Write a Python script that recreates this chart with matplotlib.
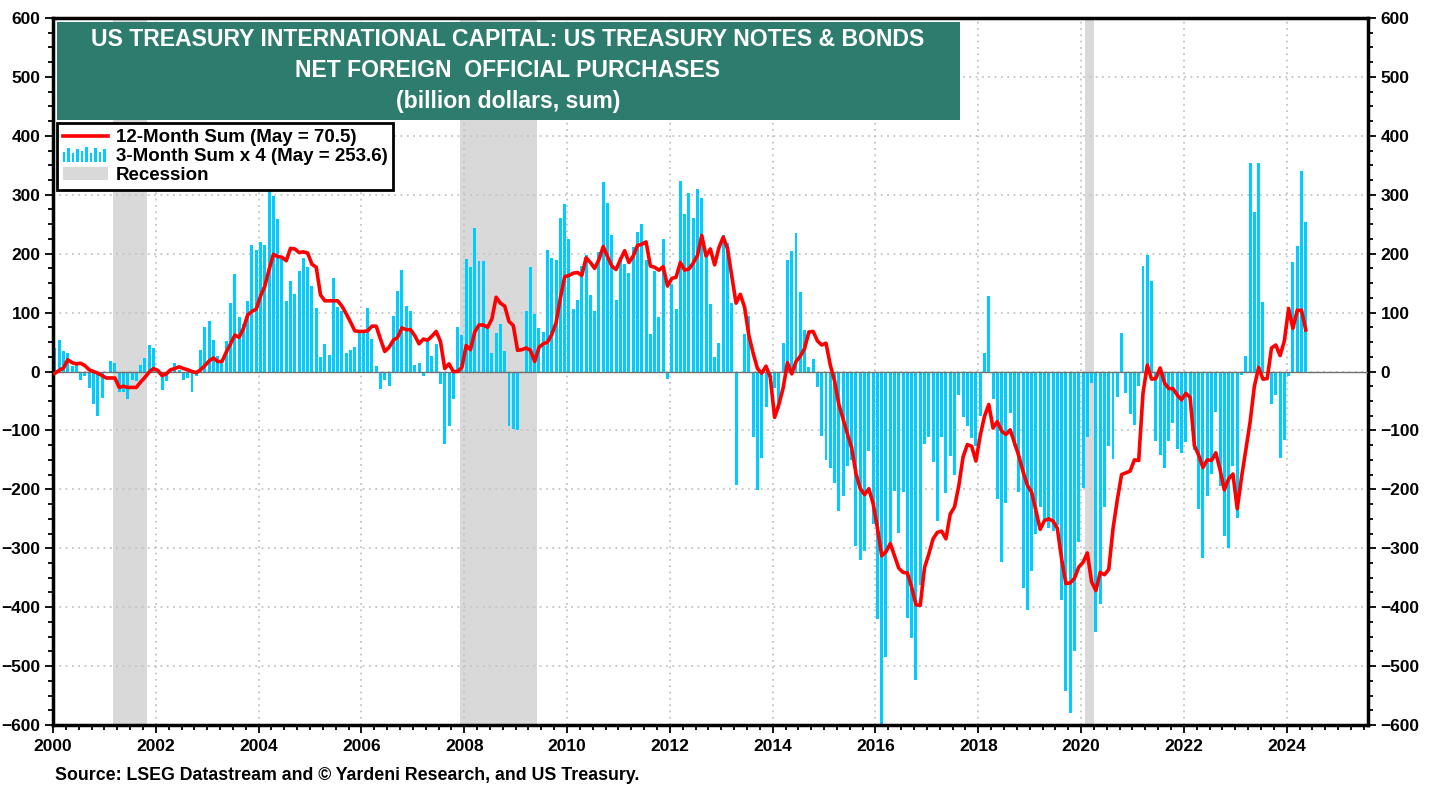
import numpy as np
import matplotlib
matplotlib.use("Agg")
import matplotlib.pyplot as plt
from matplotlib.patches import Rectangle, Patch
from matplotlib.lines import Line2D
from matplotlib.legend_handler import HandlerBase

plt.rcParams['font.family'] = ['Liberation Sans', 'DejaVu Sans']
plt.rcParams['font.weight'] = 'bold'

# monthly data, Jan 2000 .. May 2024 (billion dollars)
start_year = 2000
sum_3m_x4 = [
    40, 54, 34, 32, 10, 16, -14, -7, -28, -55, -76, -45,            # 2000
    0, 17, 15, -34, -34, -46, -14, -16, 11, 23, 45, 40,             # 2001
    2, -32, -16, 5, 15, 2, -14, -11, -35, -7, 36, 76,               # 2002
    85, 53, 27, 17, 51, 116, 165, 93, 80, 120, 215, 207,            # 2003
    220, 215, 310, 298, 259, 191, 120, 154, 132, 171, 192, 177,     # 2004
    145, 107, 24, 47, 28, 158, 109, 103, 32, 36, 41, 67,            # 2005
    69, 107, 55, 10, -29, -15, -24, 95, 136, 173, 111, 103,         # 2006
    11, 15, -7, 50, 26, 47, -22, -123, -92, -46, 75, 62,            # 2007
    191, 177, 243, 188, 188, 72, 32, 66, 81, 34, -93, -97,          # 2008
    -99, 0, 102, 178, 98, 73, 67, 207, 193, 189, 261, 284,          # 2009
    225, 106, 121, 179, 197, 130, 103, 202, 322, 286, 231, 121,     # 2010
    195, 183, 167, 212, 237, 251, 189, 64, 171, 92, 225, -12,       # 2011
    148, 106, 324, 267, 303, 260, 309, 295, 200, 115, 24, 49,       # 2012
    232, 218, 116, -192, -2, 63, 95, -112, -201, -147, -61, -13,    # 2013
    -28, -63, 48, 190, 204, 235, 135, 70, 7, 21, -27, -110,         # 2014
    -150, -163, -190, -237, -211, -161, -150, -296, -320, -304, -135, -258,  # 2015
    -420, -600, -484, -290, -203, -274, -205, -418, -452, -523, -363, -123,  # 2016
    -112, -153, -253, -112, -207, -143, -176, -40, -78, -93, -113, -127,     # 2017
    -75, 31, 129, -47, -217, -323, -224, -71, -126, -204, -368, -404,        # 2018
    -339, -276, -230, -250, -266, -271, -261, -388, -543, -580, -475, -290,  # 2019
    -198, -112, -20, -442, -394, -230, -127, -149, -44, 65, -36, -72,        # 2020
    -91, -24, 179, 197, 153, -118, -142, -163, -118, -88, -131, -138,        # 2021
    -119, -47, -134, -233, -317, -212, -174, -68, -195, -280, -300, -160,    # 2022
    -249, -6, 27, 354, 271, 354, 118, 0, -55, -40, -147, -116,               # 2023
    -7, 186, 213, 341, 253.6,                                                # 2024
]
sum_12m = [
    -3, 2, 6, 20, 15, 13, 14, 10, 3, 0, -3, -7,
    -11, -11, -11, -27, -25, -27, -27, -27, -18, -10, -1, 5,
    2, -7, -4, 3, 5, 8, 5, 3, 0, -2, 3, 10,
    18, 23, 17, 17, 33, 47, 62, 58, 73, 96, 102, 106,
    128, 145, 173, 199, 195, 194, 188, 209, 208, 202, 203, 201,
    182, 177, 130, 120, 120, 120, 120, 111, 98, 84, 69, 68,
    68, 69, 77, 77, 55, 34, 41, 53, 58, 74, 71, 71,
    61, 47, 55, 53, 60, 68, 51, 5, 13, 0, 0, 7,
    44, 37, 67, 79, 79, 75, 89, 126, 116, 111, 85, 78,
    36, 37, 40, 36, 17, 41, 47, 50, 63, 83, 125, 161,
    163, 167, 168, 163, 193, 185, 175, 190, 212, 195, 179, 173,
    190, 205, 185, 196, 214, 216, 220, 179, 177, 172, 178, 145,
    158, 160, 185, 172, 174, 184, 197, 231, 196, 208, 181, 210,
    228, 209, 162, 116, 131, 109, 61, 31, 5, -3, 9, -10,
    -78, -56, -28, 15, -4, 17, 26, 39, 67, 68, 52, 45,
    48, 11, -16, -56, -81, -106, -130, -173, -199, -209, -199, -224,
    -265, -313, -306, -292, -313, -334, -341, -342, -366, -396, -397, -333,
    -310, -284, -273, -271, -284, -242, -230, -194, -145, -124, -127, -152,
    -109, -76, -56, -96, -85, -101, -107, -99, -121, -143, -170, -193,
    -205, -236, -268, -253, -250, -254, -266, -318, -360, -359, -351, -332,
    -324, -308, -357, -372, -341, -345, -336, -267, -218, -175, -172, -169,
    -150, -151, -37, 11, -13, -12, 6, -19, -29, -29, -40, -48,
    -37, -44, -126, -142, -163, -150, -151, -138, -167, -201, -182, -174,
    -233, -180, -133, -86, -25, 7, -13, -12, 40, 45, 27, 52,
    107, 73, 104, 104, 70.5,
]
# recessions as (start, end) in decimal years
recessions = [(2001 + 2 / 12, 2001 + 10 / 12),
              (2007 + 11 / 12, 2009 + 5 / 12),
              (2020 + 1 / 12, 2020 + 3 / 12)]

labels = ['12-Month Sum (May = 70.5)', '3-Month Sum x 4 (May = 253.6)', 'Recession']
x_ticks = list(range(2000, 2025, 2))
y_ticks = list(range(-600, 601, 100))

BAR_COLOR = '#00CCFF'
REC_COLOR = '#D9D9D9'

months = np.arange(len(sum_3m_x4))
x = start_year + (months + 0.45) / 12


class BarIcon:
    pass


class MiniBars(HandlerBase):
    def create_artists(self, legend, orig_handle, xdescent, ydescent,
                       width, height, fontsize, trans):
        fr = [0.7, 0.95, 0.6, 0.9, 0.75, 1.0, 0.65, 0.95, 0.7, 0.9]
        step = width / len(fr)
        out = []
        for k, f in enumerate(fr):
            r = Rectangle((-xdescent + k * step, -ydescent - 1), step * 0.55,
                          height * 1.15 * f, facecolor=BAR_COLOR,
                          edgecolor='none', transform=trans)
            out.append(r)
        return out


fig = plt.figure(figsize=(14.36, 7.87), dpi=100)
ax = fig.add_axes([0.0369, 0.0788, 0.9157, 0.8983])

for a, b in recessions:
    ax.axvspan(a, b, color=REC_COLOR, lw=0, zorder=0)

ax.grid(True, which='major', linestyle=(0, (1, 2.5)), color='#C4C4C4', lw=1.3, zorder=1)
ax.bar(x, sum_3m_x4, width=0.058, color=BAR_COLOR, zorder=2)
ax.axhline(0, color='#707070', lw=1, zorder=3)
ax.plot(x, sum_12m, color='#FF0000', lw=2.6, zorder=4, solid_joinstyle='round')

ax.set_xlim(2000, 2025.58)
ax.set_ylim(-600, 600)
ax.set_xticks(x_ticks)
ax.set_xticks(np.arange(2000, 2025.6, 0.25), minor=True)
ax.set_yticks(y_ticks)
ax.set_yticks(range(-600, 601, 25), minor=True)
ax.tick_params(which='both', direction='out', right=True, labelright=True,
               width=1.3, labelsize=12.5)
ax.tick_params(which='major', length=6, pad=3)
ax.tick_params(which='minor', length=3.5)
ax.tick_params(axis='x', pad=4)
for s in ax.spines.values():
    s.set_linewidth(2.5)

# title box
ax.add_patch(Rectangle((0.003, 0.8557), 0.6867, 0.1386, transform=ax.transAxes,
                       facecolor='#2E7C6E', edgecolor='none', zorder=5))
tx = 0.346
ax.text(tx, 0.969, 'US TREASURY INTERNATIONAL CAPITAL: US TREASURY NOTES & BONDS',
        transform=ax.transAxes, ha='center', va='center', color='white',
        fontsize=16.6, zorder=6)
ax.text(tx, 0.926, 'NET FOREIGN  OFFICIAL PURCHASES', transform=ax.transAxes,
        ha='center', va='center', color='white', fontsize=16.6, zorder=6)
ax.text(tx, 0.882, '(billion dollars, sum)', transform=ax.transAxes,
        ha='center', va='center', color='white', fontsize=16.6, zorder=6)

handles = [Line2D([], [], color='#FF0000', lw=2.6), BarIcon(),
           Patch(facecolor=REC_COLOR, edgecolor='none')]
leg = ax.legend(handles, labels, handler_map={BarIcon: MiniBars()},
                loc='upper left', bbox_to_anchor=(0.003, 0.851),
                prop={'weight': 'bold', 'size': 13.5}, fancybox=False,
                framealpha=1, borderpad=0.3, handlelength=2.4,
                handletextpad=0.45, labelspacing=0.1, borderaxespad=0)
leg.get_frame().set_edgecolor('black')
leg.get_frame().set_linewidth(2)
leg.set_zorder(6)

fig.text(55 / 1436, 1 - 775 / 787,
         'Source: LSEG Datastream and \u00a9 Yardeni Research, and US Treasury.',
         fontsize=12.8, va='center', ha='left')

fig.savefig('out.png', dpi=100)
